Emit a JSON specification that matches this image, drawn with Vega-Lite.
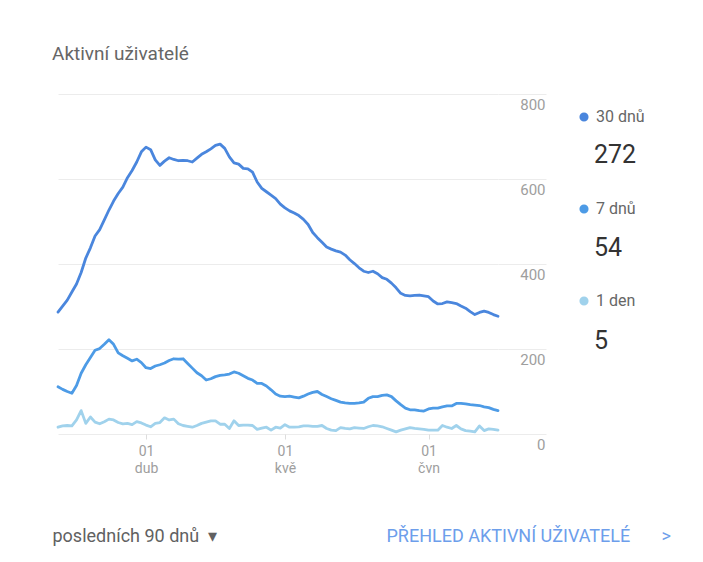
{
"$schema": "https://vega.github.io/schema/vega-lite/v6.json",
"width": 440, "height": 340,
"autosize": {"type": "none"},
"padding": {"left": 58, "top": 94, "right": 205, "bottom": 128},
"background": "white",
"config": {"view": {"stroke": null}, "font": "Roboto"},
"title": {"text": "Aktivní uživatelé", "anchor": "start", "frame": "group", "fontSize": 19, "font": "Roboto", "fontWeight": "normal", "color": "#666666", "offset": 15, "dx": -6, "baseline": "alphabetic"},
"datasets": {
"main": [
{"date":"2019-03-13","series":"30 dnů","value":287},{"date":"2019-03-14","series":"30 dnů","value":301},{"date":"2019-03-15","series":"30 dnů","value":315},{"date":"2019-03-16","series":"30 dnů","value":334},{"date":"2019-03-17","series":"30 dnů","value":353},{"date":"2019-03-18","series":"30 dnů","value":380},{"date":"2019-03-19","series":"30 dnů","value":414},{"date":"2019-03-20","series":"30 dnů","value":438},{"date":"2019-03-21","series":"30 dnů","value":466},{"date":"2019-03-22","series":"30 dnů","value":481},{"date":"2019-03-23","series":"30 dnů","value":504},{"date":"2019-03-24","series":"30 dnů","value":527},{"date":"2019-03-25","series":"30 dnů","value":548},{"date":"2019-03-26","series":"30 dnů","value":566},{"date":"2019-03-27","series":"30 dnů","value":581},{"date":"2019-03-28","series":"30 dnů","value":603},{"date":"2019-03-29","series":"30 dnů","value":620},{"date":"2019-03-30","series":"30 dnů","value":640},{"date":"2019-03-31","series":"30 dnů","value":664},
{"date":"2019-04-01","series":"30 dnů","value":675},{"date":"2019-04-02","series":"30 dnů","value":669},{"date":"2019-04-03","series":"30 dnů","value":645},{"date":"2019-04-04","series":"30 dnů","value":632},{"date":"2019-04-05","series":"30 dnů","value":642},{"date":"2019-04-06","series":"30 dnů","value":650},{"date":"2019-04-07","series":"30 dnů","value":646},{"date":"2019-04-08","series":"30 dnů","value":643},{"date":"2019-04-09","series":"30 dnů","value":644},{"date":"2019-04-10","series":"30 dnů","value":643},{"date":"2019-04-11","series":"30 dnů","value":640},{"date":"2019-04-12","series":"30 dnů","value":649},{"date":"2019-04-13","series":"30 dnů","value":658},{"date":"2019-04-14","series":"30 dnů","value":664},{"date":"2019-04-15","series":"30 dnů","value":671},{"date":"2019-04-16","series":"30 dnů","value":679},{"date":"2019-04-17","series":"30 dnů","value":682},{"date":"2019-04-18","series":"30 dnů","value":672},{"date":"2019-04-19","series":"30 dnů","value":652},{"date":"2019-04-20","series":"30 dnů","value":638},{"date":"2019-04-21","series":"30 dnů","value":635},{"date":"2019-04-22","series":"30 dnů","value":625},{"date":"2019-04-23","series":"30 dnů","value":624},{"date":"2019-04-24","series":"30 dnů","value":616},{"date":"2019-04-25","series":"30 dnů","value":593},{"date":"2019-04-26","series":"30 dnů","value":578},{"date":"2019-04-27","series":"30 dnů","value":570},{"date":"2019-04-28","series":"30 dnů","value":562},{"date":"2019-04-29","series":"30 dnů","value":554},{"date":"2019-04-30","series":"30 dnů","value":541},
{"date":"2019-05-01","series":"30 dnů","value":532},{"date":"2019-05-02","series":"30 dnů","value":525},{"date":"2019-05-03","series":"30 dnů","value":520},{"date":"2019-05-04","series":"30 dnů","value":514},{"date":"2019-05-05","series":"30 dnů","value":505},{"date":"2019-05-06","series":"30 dnů","value":493},{"date":"2019-05-07","series":"30 dnů","value":474},{"date":"2019-05-08","series":"30 dnů","value":462},{"date":"2019-05-09","series":"30 dnů","value":451},{"date":"2019-05-10","series":"30 dnů","value":440},{"date":"2019-05-11","series":"30 dnů","value":435},{"date":"2019-05-12","series":"30 dnů","value":431},{"date":"2019-05-13","series":"30 dnů","value":428},{"date":"2019-05-14","series":"30 dnů","value":421},{"date":"2019-05-15","series":"30 dnů","value":410},{"date":"2019-05-16","series":"30 dnů","value":401},{"date":"2019-05-17","series":"30 dnů","value":391},{"date":"2019-05-18","series":"30 dnů","value":383},{"date":"2019-05-19","series":"30 dnů","value":380},{"date":"2019-05-20","series":"30 dnů","value":383},{"date":"2019-05-21","series":"30 dnů","value":377},{"date":"2019-05-22","series":"30 dnů","value":368},{"date":"2019-05-23","series":"30 dnů","value":364},{"date":"2019-05-24","series":"30 dnů","value":355},{"date":"2019-05-25","series":"30 dnů","value":344},{"date":"2019-05-26","series":"30 dnů","value":331},{"date":"2019-05-27","series":"30 dnů","value":326},{"date":"2019-05-28","series":"30 dnů","value":325},{"date":"2019-05-29","series":"30 dnů","value":326},{"date":"2019-05-30","series":"30 dnů","value":327},{"date":"2019-05-31","series":"30 dnů","value":325},
{"date":"2019-06-01","series":"30 dnů","value":323},{"date":"2019-06-02","series":"30 dnů","value":313},{"date":"2019-06-03","series":"30 dnů","value":306},{"date":"2019-06-04","series":"30 dnů","value":307},{"date":"2019-06-05","series":"30 dnů","value":311},{"date":"2019-06-06","series":"30 dnů","value":309},{"date":"2019-06-07","series":"30 dnů","value":307},{"date":"2019-06-08","series":"30 dnů","value":301},{"date":"2019-06-09","series":"30 dnů","value":296},{"date":"2019-06-10","series":"30 dnů","value":288},{"date":"2019-06-11","series":"30 dnů","value":281},{"date":"2019-06-12","series":"30 dnů","value":286},{"date":"2019-06-13","series":"30 dnů","value":289},{"date":"2019-06-14","series":"30 dnů","value":286},{"date":"2019-06-15","series":"30 dnů","value":281},{"date":"2019-06-16","series":"30 dnů","value":277},
{"date":"2019-03-13","series":"7 dnů","value":111},{"date":"2019-03-14","series":"7 dnů","value":105},{"date":"2019-03-15","series":"7 dnů","value":100},{"date":"2019-03-16","series":"7 dnů","value":96},{"date":"2019-03-17","series":"7 dnů","value":114},{"date":"2019-03-18","series":"7 dnů","value":143},{"date":"2019-03-19","series":"7 dnů","value":163},{"date":"2019-03-20","series":"7 dnů","value":180},{"date":"2019-03-21","series":"7 dnů","value":197},{"date":"2019-03-22","series":"7 dnů","value":201},{"date":"2019-03-23","series":"7 dnů","value":211},{"date":"2019-03-24","series":"7 dnů","value":222},{"date":"2019-03-25","series":"7 dnů","value":211},{"date":"2019-03-26","series":"7 dnů","value":191},{"date":"2019-03-27","series":"7 dnů","value":184},{"date":"2019-03-28","series":"7 dnů","value":178},{"date":"2019-03-29","series":"7 dnů","value":172},{"date":"2019-03-30","series":"7 dnů","value":176},{"date":"2019-03-31","series":"7 dnů","value":168},
{"date":"2019-04-01","series":"7 dnů","value":156},{"date":"2019-04-02","series":"7 dnů","value":154},{"date":"2019-04-03","series":"7 dnů","value":160},{"date":"2019-04-04","series":"7 dnů","value":163},{"date":"2019-04-05","series":"7 dnů","value":167},{"date":"2019-04-06","series":"7 dnů","value":173},{"date":"2019-04-07","series":"7 dnů","value":177},{"date":"2019-04-08","series":"7 dnů","value":176},{"date":"2019-04-09","series":"7 dnů","value":177},{"date":"2019-04-10","series":"7 dnů","value":166},{"date":"2019-04-11","series":"7 dnů","value":155},{"date":"2019-04-12","series":"7 dnů","value":144},{"date":"2019-04-13","series":"7 dnů","value":137},{"date":"2019-04-14","series":"7 dnů","value":127},{"date":"2019-04-15","series":"7 dnů","value":130},{"date":"2019-04-16","series":"7 dnů","value":135},{"date":"2019-04-17","series":"7 dnů","value":138},{"date":"2019-04-18","series":"7 dnů","value":139},{"date":"2019-04-19","series":"7 dnů","value":141},{"date":"2019-04-20","series":"7 dnů","value":146},{"date":"2019-04-21","series":"7 dnů","value":143},{"date":"2019-04-22","series":"7 dnů","value":137},{"date":"2019-04-23","series":"7 dnů","value":131},{"date":"2019-04-24","series":"7 dnů","value":127},{"date":"2019-04-25","series":"7 dnů","value":119},{"date":"2019-04-26","series":"7 dnů","value":119},{"date":"2019-04-27","series":"7 dnů","value":113},{"date":"2019-04-28","series":"7 dnů","value":104},{"date":"2019-04-29","series":"7 dnů","value":94},{"date":"2019-04-30","series":"7 dnů","value":89},
{"date":"2019-05-01","series":"7 dnů","value":88},{"date":"2019-05-02","series":"7 dnů","value":89},{"date":"2019-05-03","series":"7 dnů","value":87},{"date":"2019-05-04","series":"7 dnů","value":85},{"date":"2019-05-05","series":"7 dnů","value":89},{"date":"2019-05-06","series":"7 dnů","value":94},{"date":"2019-05-07","series":"7 dnů","value":98},{"date":"2019-05-08","series":"7 dnů","value":100},{"date":"2019-05-09","series":"7 dnů","value":93},{"date":"2019-05-10","series":"7 dnů","value":88},{"date":"2019-05-11","series":"7 dnů","value":83},{"date":"2019-05-12","series":"7 dnů","value":79},{"date":"2019-05-13","series":"7 dnů","value":75},{"date":"2019-05-14","series":"7 dnů","value":73},{"date":"2019-05-15","series":"7 dnů","value":72},{"date":"2019-05-16","series":"7 dnů","value":72},{"date":"2019-05-17","series":"7 dnů","value":73},{"date":"2019-05-18","series":"7 dnů","value":75},{"date":"2019-05-19","series":"7 dnů","value":84},{"date":"2019-05-20","series":"7 dnů","value":88},{"date":"2019-05-21","series":"7 dnů","value":88},{"date":"2019-05-22","series":"7 dnů","value":91},{"date":"2019-05-23","series":"7 dnů","value":92},{"date":"2019-05-24","series":"7 dnů","value":88},{"date":"2019-05-25","series":"7 dnů","value":78},{"date":"2019-05-26","series":"7 dnů","value":69},{"date":"2019-05-27","series":"7 dnů","value":61},{"date":"2019-05-28","series":"7 dnů","value":57},{"date":"2019-05-29","series":"7 dnů","value":57},{"date":"2019-05-30","series":"7 dnů","value":55},{"date":"2019-05-31","series":"7 dnů","value":54},
{"date":"2019-06-01","series":"7 dnů","value":59},{"date":"2019-06-02","series":"7 dnů","value":61},{"date":"2019-06-03","series":"7 dnů","value":61},{"date":"2019-06-04","series":"7 dnů","value":64},{"date":"2019-06-05","series":"7 dnů","value":66},{"date":"2019-06-06","series":"7 dnů","value":66},{"date":"2019-06-07","series":"7 dnů","value":72},{"date":"2019-06-08","series":"7 dnů","value":72},{"date":"2019-06-09","series":"7 dnů","value":71},{"date":"2019-06-10","series":"7 dnů","value":69},{"date":"2019-06-11","series":"7 dnů","value":68},{"date":"2019-06-12","series":"7 dnů","value":67},{"date":"2019-06-13","series":"7 dnů","value":64},{"date":"2019-06-14","series":"7 dnů","value":62},{"date":"2019-06-15","series":"7 dnů","value":58},{"date":"2019-06-16","series":"7 dnů","value":55},
{"date":"2019-03-13","series":"1 den","value":16},{"date":"2019-03-14","series":"1 den","value":19},{"date":"2019-03-15","series":"1 den","value":20},{"date":"2019-03-16","series":"1 den","value":19},{"date":"2019-03-17","series":"1 den","value":33},{"date":"2019-03-18","series":"1 den","value":55},{"date":"2019-03-19","series":"1 den","value":25},{"date":"2019-03-20","series":"1 den","value":40},{"date":"2019-03-21","series":"1 den","value":28},{"date":"2019-03-22","series":"1 den","value":24},{"date":"2019-03-23","series":"1 den","value":29},{"date":"2019-03-24","series":"1 den","value":35},{"date":"2019-03-25","series":"1 den","value":33},{"date":"2019-03-26","series":"1 den","value":27},{"date":"2019-03-27","series":"1 den","value":24},{"date":"2019-03-28","series":"1 den","value":25},{"date":"2019-03-29","series":"1 den","value":22},{"date":"2019-03-30","series":"1 den","value":29},{"date":"2019-03-31","series":"1 den","value":26},
{"date":"2019-04-01","series":"1 den","value":21},{"date":"2019-04-02","series":"1 den","value":17},{"date":"2019-04-03","series":"1 den","value":25},{"date":"2019-04-04","series":"1 den","value":27},{"date":"2019-04-05","series":"1 den","value":38},{"date":"2019-04-06","series":"1 den","value":33},{"date":"2019-04-07","series":"1 den","value":35},{"date":"2019-04-08","series":"1 den","value":24},{"date":"2019-04-09","series":"1 den","value":20},{"date":"2019-04-10","series":"1 den","value":18},{"date":"2019-04-11","series":"1 den","value":16},{"date":"2019-04-12","series":"1 den","value":20},{"date":"2019-04-13","series":"1 den","value":25},{"date":"2019-04-14","series":"1 den","value":28},{"date":"2019-04-15","series":"1 den","value":31},{"date":"2019-04-16","series":"1 den","value":31},{"date":"2019-04-17","series":"1 den","value":23},{"date":"2019-04-18","series":"1 den","value":23},{"date":"2019-04-19","series":"1 den","value":13},{"date":"2019-04-20","series":"1 den","value":31},{"date":"2019-04-21","series":"1 den","value":20},{"date":"2019-04-22","series":"1 den","value":21},{"date":"2019-04-23","series":"1 den","value":21},{"date":"2019-04-24","series":"1 den","value":20},{"date":"2019-04-25","series":"1 den","value":11},{"date":"2019-04-26","series":"1 den","value":14},{"date":"2019-04-27","series":"1 den","value":16},{"date":"2019-04-28","series":"1 den","value":9},{"date":"2019-04-29","series":"1 den","value":16},{"date":"2019-04-30","series":"1 den","value":14},
{"date":"2019-05-01","series":"1 den","value":22},{"date":"2019-05-02","series":"1 den","value":16},{"date":"2019-05-03","series":"1 den","value":16},{"date":"2019-05-04","series":"1 den","value":17},{"date":"2019-05-05","series":"1 den","value":19},{"date":"2019-05-06","series":"1 den","value":19},{"date":"2019-05-07","series":"1 den","value":18},{"date":"2019-05-08","series":"1 den","value":18},{"date":"2019-05-09","series":"1 den","value":20},{"date":"2019-05-10","series":"1 den","value":13},{"date":"2019-05-11","series":"1 den","value":9},{"date":"2019-05-12","series":"1 den","value":8},{"date":"2019-05-13","series":"1 den","value":15},{"date":"2019-05-14","series":"1 den","value":13},{"date":"2019-05-15","series":"1 den","value":12},{"date":"2019-05-16","series":"1 den","value":15},{"date":"2019-05-17","series":"1 den","value":14},{"date":"2019-05-18","series":"1 den","value":13},{"date":"2019-05-19","series":"1 den","value":17},{"date":"2019-05-20","series":"1 den","value":20},{"date":"2019-05-21","series":"1 den","value":19},{"date":"2019-05-22","series":"1 den","value":17},{"date":"2019-05-23","series":"1 den","value":13},{"date":"2019-05-24","series":"1 den","value":9},{"date":"2019-05-25","series":"1 den","value":5},{"date":"2019-05-26","series":"1 den","value":9},{"date":"2019-05-27","series":"1 den","value":12},{"date":"2019-05-28","series":"1 den","value":15},{"date":"2019-05-29","series":"1 den","value":13},{"date":"2019-05-30","series":"1 den","value":12},{"date":"2019-05-31","series":"1 den","value":11},
{"date":"2019-06-01","series":"1 den","value":9},{"date":"2019-06-02","series":"1 den","value":9},{"date":"2019-06-03","series":"1 den","value":9},{"date":"2019-06-04","series":"1 den","value":20},{"date":"2019-06-05","series":"1 den","value":16},{"date":"2019-06-06","series":"1 den","value":13},{"date":"2019-06-07","series":"1 den","value":20},{"date":"2019-06-08","series":"1 den","value":12},{"date":"2019-06-09","series":"1 den","value":8},{"date":"2019-06-10","series":"1 den","value":7},{"date":"2019-06-11","series":"1 den","value":5},{"date":"2019-06-12","series":"1 den","value":19},{"date":"2019-06-13","series":"1 den","value":8},{"date":"2019-06-14","series":"1 den","value":12},{"date":"2019-06-15","series":"1 den","value":11},{"date":"2019-06-16","series":"1 den","value":9}
],
"current": [
{"series":"30 dnů","current":"272"},{"series":"7 dnů","current":"54"},{"series":"1 den","current":"5"}
]
},
"layer": [
{
"data": {"name": "main"},
"mark": {"type": "line", "strokeJoin": "round", "strokeCap": "round"},
"encoding": {
"x": {"field": "date", "type": "temporal",
 "scale": {"type": "utc", "nice": false, "domain": [{"year": 2019, "month": 3, "date": 13, "utc": true}, {"year": 2019, "month": 6, "date": 16, "utc": true}]},
 "axis": {"title": "posledních 90 dnů\u00a0\u00a0▾", "titleX": -6, "titleY": 102, "titleAlign": "left", "titleBaseline": "middle", "titleFont": "Roboto", "titleFontSize": 18, "titleFontWeight": "normal", "titleColor": "#616161",
  "values": [{"year": 2019, "month": 4, "date": 1, "utc": true}, {"year": 2019, "month": 5, "date": 1, "utc": true}, {"year": 2019, "month": 6, "date": 1, "utc": true}],
  "labelExpr": "[utcFormat(datum.value, '%d'), ['led','úno','bře','dub','kvě','čvn','čvc','srp','zář','říj','lis','pro'][utcmonth(datum.value)]]",
  "labelFont": "Roboto", "labelFontSize": 14, "labelColor": "#9e9e9e", "labelLineHeight": 17, "labelPadding": 5, "labelFlush": false, "labelOverlap": false,
  "tickSize": 5, "tickColor": "#dddddd", "domain": false, "grid": false}},
"y": {"field": "value", "type": "quantitative",
 "scale": {"domain": [0, 800], "nice": false},
 "axis": {"orient": "right", "title": "PŘEHLED AKTIVNÍ UŽIVATELÉ\u00a0\u00a0\u00a0\u00a0\u00a0\u00a0\u00a0>", "titleAngle": 0, "titleX": -112, "titleY": 442, "titleAlign": "left", "titleBaseline": "middle", "titleFont": "Roboto", "titleFontSize": 18, "titleFontWeight": "normal", "titleColor": "#6d9eeb",
  "values": [0, 200, 400, 600, 800], "grid": true, "gridColor": "#ececec", "gridWidth": 1, "tickSize": 48, "tickColor": "#ececec", "domain": false,
  "labelAlign": "right", "labelBaseline": "top", "labelPadding": -1, "labelOffset": 3, "labelColor": "#9e9e9e", "labelFontSize": 15, "labelFont": "Roboto", "labelFlush": false, "labelOverlap": false}},
"color": {"field": "series", "type": "nominal",
 "scale": {"domain": ["30 dnů", "7 dnů", "1 den"], "range": ["#4a86dd", "#4d9be6", "#a0d2ec"]},
 "legend": {"orient": "none", "legendX": 518, "legendY": 15, "title": null, "symbolType": "circle", "symbolSize": 40, "symbolStrokeWidth": 0, "labelFont": "Roboto", "labelFontSize": 16, "labelColor": "#666666", "labelOffset": 4, "rowPadding": 74, "padding": 0,
  "encode": {"symbols": {"update": {"fill": {"scale": "color", "field": "value"}, "opacity": {"value": 1}}}}}},
"strokeWidth": {"field": "series", "type": "nominal", "scale": {"domain": ["30 dnů", "7 dnů", "1 den"], "range": [2.8, 2.8, 2.2]}, "legend": null}
}
},
{
"data": {"name": "current"},
"mark": {"type": "point", "opacity": 0},
"encoding": {
"shape": {"field": "current", "type": "nominal", "scale": {"domain": ["272", "54", "5"]},
 "legend": {"orient": "none", "legendX": 511, "legendY": 48, "title": null, "symbolSize": 0, "symbolOpacity": 0, "labelFont": "Roboto", "labelFontSize": 25, "labelColor": "#333333", "labelOffset": 0, "rowPadding": 67, "padding": 0}}
}
}
]
}
